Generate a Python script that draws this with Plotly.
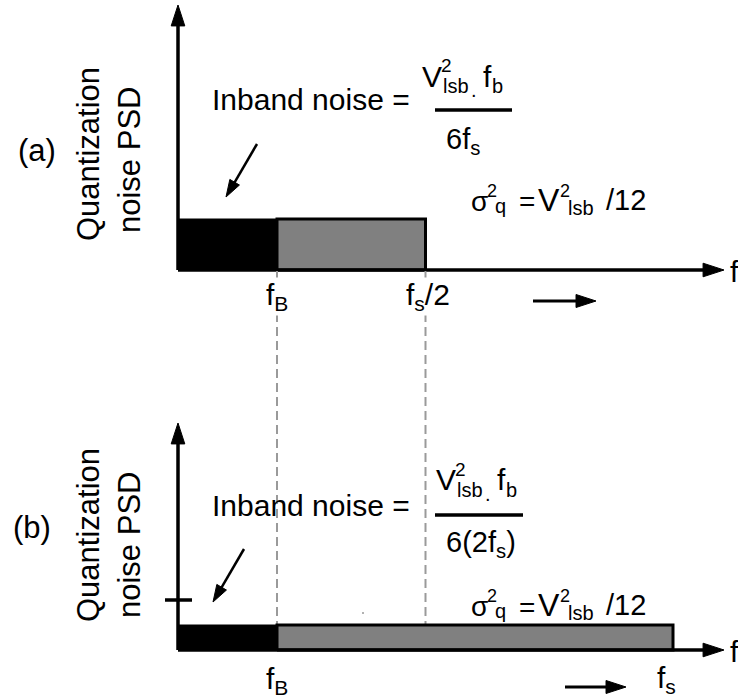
import plotly.graph_objects as go

# ---------------- data (normalised frequency units, f_B = 1) ----------------
f_B = 1.0                 # signal-band edge
f_s = 5.0                 # sampling frequency, case (b)
f_half = f_s / 2          # Nyquist edge, case (a)
psd_a = 1.0               # quantisation-noise PSD level, case (a)
psd_b = 0.5               # PSD level, case (b) (2x oversampled)
edges_a = [0.0, f_B, f_half]
edges_b = [0.0, f_B, f_s]
labels_a = ["f<sub>B</sub>", "f<sub>s</sub>/2"]
labels_b = ["f<sub>B</sub>", "f<sub>s</sub>"]

# ---------------- geometry ----------------
W, H = 738, 698
X0, SX = 178, 99          # pixel of f = 0, pixels per unit
YA0, SYA = 270, 51        # panel (a) baseline pixel, px per unit
YB0, SYB = 650, 50        # panel (b) baseline pixel, px per unit
FONT = "Liberation Sans, Arial, Helvetica, sans-serif"
GRAY = "#808080"
DASH = "#9a9a9a"


def xd(px):
    return (px - X0) / SX


def ya(py):
    return (YA0 - py) / SYA


def yb(py):
    return (YB0 - py) / SYB


def rect(x0, x1, h, fill, lw, yaxis):
    return go.Scatter(x=[x0, x1, x1, x0, x0], y=[0, 0, h, h, 0], mode="lines",
                      fill="toself", fillcolor=fill,
                      line=dict(color="black", width=lw),
                      yaxis=yaxis, hoverinfo="skip", showlegend=False)


def arrow(xs, ys, yaxis, lw=3.5, head=22, color="black"):
    return go.Scatter(x=xs, y=ys, mode="lines+markers",
                      line=dict(color=color, width=lw),
                      marker=dict(symbol=["circle", "arrow"], size=[0, head],
                                  angleref="previous", color=color, opacity=1,
                                  line=dict(width=1, color=color)),
                      yaxis=yaxis, hoverinfo="skip", showlegend=False)


def seg(xs, ys, yaxis, lw=2, color="black", dash=None):
    return go.Scatter(x=xs, y=ys, mode="lines",
                      line=dict(color=color, width=lw, dash=dash),
                      yaxis=yaxis, hoverinfo="skip", showlegend=False)


fig = go.Figure()

# dashed guide lines from panel (a) axis down to panel (b) PSD level
top_axis_in_b = yb(YA0 + 1)
for xv in [edges_a[1], edges_a[2]]:
    fig.add_trace(seg([xv, xv], [top_axis_in_b, psd_b], "y2", lw=2,
                      color=DASH, dash="9px,5px"))

# panel (a) noise bands
fig.add_trace(rect(edges_a[1], edges_a[2], psd_a, GRAY, 3, "y"))
fig.add_trace(rect(edges_a[0], edges_a[1], psd_a, "black", 1, "y"))
# panel (b) noise bands
fig.add_trace(rect(edges_b[1], edges_b[2], psd_b, GRAY, 3, "y2"))
fig.add_trace(rect(edges_b[0], edges_b[1], psd_b, "black", 1, "y2"))

# axes with arrow heads
fig.add_trace(arrow([0, 0], [0, ya(5)], "y"))
fig.add_trace(arrow([0, xd(724)], [0, 0], "y"))
fig.add_trace(arrow([0, 0], [0, yb(423)], "y2"))
fig.add_trace(arrow([0, xd(724)], [0, 0], "y2"))

# level tick on (b) axis showing the old PSD level
fig.add_trace(seg([xd(165), xd(192)], [psd_a, psd_a], "y2", lw=3.5))

# pointer arrows to the in-band noise
fig.add_trace(arrow([xd(257), xd(226)], [ya(144), ya(197)], "y", lw=2.5, head=18))
fig.add_trace(arrow([xd(244), xd(213)], [yb(549), yb(602)], "y2", lw=2.5, head=18))

# "increasing f" arrows under the axes
fig.add_trace(arrow([xd(533), xd(596)], [ya(301), ya(301)], "y", lw=3, head=21))
fig.add_trace(arrow([xd(565), xd(626)], [yb(687), yb(687)], "y2", lw=3, head=21))

# stray dot
fig.add_trace(go.Scatter(x=[xd(363)], y=[yb(613)], mode="markers", yaxis="y2",
                         marker=dict(size=2, color="#999999"), hoverinfo="skip",
                         showlegend=False))

anns = []


def txt(x, y, s, size, xanchor="left", angle=0):
    anns.append(dict(x=x / W, y=1 - y / H, xref="paper", yref="paper", text=s,
                     showarrow=False, xanchor=xanchor, yanchor="middle",
                     textangle=angle, borderpad=0,
                     font=dict(size=size, color="black", family=FONT)))


# panel labels and y titles
txt(37, 150, "(a)", 31, "center")
txt(32, 527, "(b)", 31, "center")
txt(88, 154, "Quantization", 31, "center", -90)
txt(129, 160, "noise PSD", 31, "center", -90)
txt(88, 535, "Quantization", 31, "center", -90)
txt(129, 545, "noise PSD", 31, "center", -90)

# axis "f" labels
txt(729, 271, "f", 30)
txt(729, 651, "f", 30)

# in-band noise formulas
for (dy, vx, den, den_y) in [(0, 421, "6f<sub>s</sub>", 141),
                             (405, 435, "6(2f<sub>s</sub>)", 544)]:
    txt(211, 100 + dy, "Inband noise =", 30)
    vy = 76 + (0 if dy == 0 else 404)
    txt(vx, vy, "V", 30)
    txt(vx + 19, vy - 11, "2", 19)
    txt(vx + 21, vy + 10, "lsb", 20)
    txt(vx + 49, vy + 14, ".", 20)
    txt(vx + 61, vy, "f", 30)
    txt(vx + 70, vy + 10, "b", 20)
    txt(445, den_y, den, 29)

# sigma_q^2 = V_lsb^2 / 12
for sy in [200, 605]:
    txt(470, sy + 1, "σ", 28)
    txt(486, sy - 9, "2", 18)
    txt(494, sy + 6, "q", 20)
    txt(518, sy + 2, "=", 28)
    txt(537, sy, "V", 32)
    txt(559, sy - 9, "2", 18)
    txt(567, sy + 8, "lsb", 20)
    txt(605, sy, "/12", 29)

# frequency tick labels
for lab, xv, py, shift in [(labels_a[0], edges_a[1], 296, 0),
                           (labels_a[1], edges_a[2], 296, 2),
                           (labels_b[0], edges_b[1], 680, 0),
                           (labels_b[1], edges_b[2], 679, -7)]:
    anns.append(dict(x=xv, y=1 - py / H, xref="x", yref="paper", text=lab,
                     showarrow=False, xanchor="center", yanchor="middle",
                     xshift=shift, bgcolor="white", borderpad=0,
                     font=dict(size=30, color="black", family=FONT)))

shapes = [
    dict(type="line", xref="paper", yref="paper", x0=435 / W, x1=512 / W,
         y0=1 - 110 / H, y1=1 - 110 / H, line=dict(color="black", width=3.5)),
    dict(type="line", xref="paper", yref="paper", x0=435 / W, x1=523 / W,
         y0=1 - 515 / H, y1=1 - 515 / H, line=dict(color="black", width=3.5)),
]

fig.update_layout(
    width=W, height=H, margin=dict(l=0, r=0, t=0, b=0),
    paper_bgcolor="white", plot_bgcolor="white", showlegend=False,
    hovermode=False,
    xaxis=dict(range=[-X0 / SX, (W - X0) / SX], visible=False, fixedrange=True),
    yaxis=dict(range=[(YA0 - H) / SYA, YA0 / SYA], visible=False, fixedrange=True),
    yaxis2=dict(range=[(YB0 - H) / SYB, YB0 / SYB], visible=False,
                overlaying="y", fixedrange=True),
    annotations=anns, shapes=shapes,
)

fig.write_html("out.html", config={"displayModeBar": False, "staticPlot": True},
               post_script="document.body.style.margin='0';"
                           "document.body.style.overflow='hidden';")
